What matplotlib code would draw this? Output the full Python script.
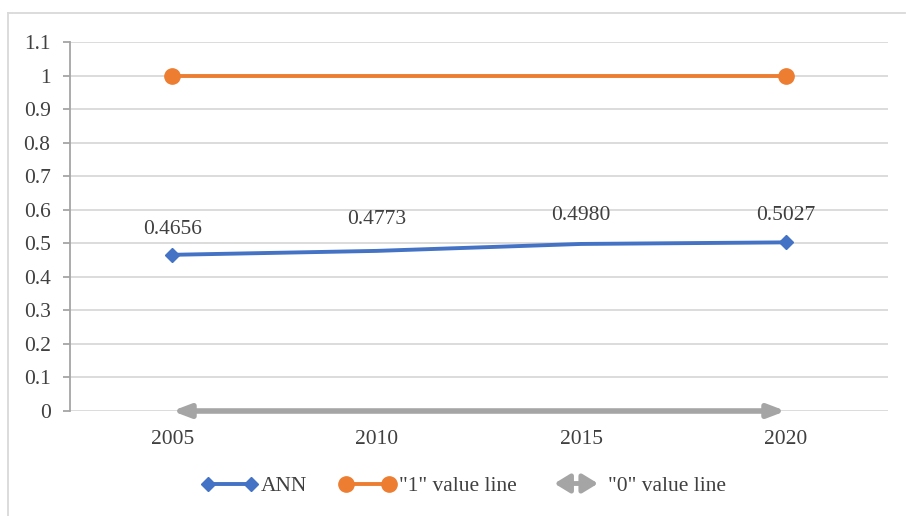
import matplotlib.pyplot as plt
import matplotlib.patches as mpatches
from matplotlib.lines import Line2D
from matplotlib.legend_handler import HandlerPatch

plt.rcParams['font.family'] = ['Liberation Serif', 'DejaVu Serif']

# -- data
years = ['2005', '2010', '2015', '2020']
ann = [0.4656, 0.4773, 0.4980, 0.5027]
ann_labels = ['0.4656', '0.4773', '0.4980', '0.5027']
one_line = [1, 1, 1, 1]
zero_line = [0, 0, 0, 0]
yticks = [0, 0.1, 0.2, 0.3, 0.4, 0.5, 0.6, 0.7, 0.8, 0.9, 1, 1.1]
ytick_labels = ['0', '0.1', '0.2', '0.3', '0.4', '0.5', '0.6', '0.7', '0.8', '0.9', '1', '1.1']

blue = '#4472C4'
orange = '#ED7D31'
gray = '#A5A5A5'
grid = '#D9D9D9'
txt = '#404040'
fs = 15.5

fig = plt.figure(figsize=(9.06, 5.16), dpi=100)
ax = fig.add_axes([70/906, 1 - 411/516, (888 - 70)/906, (411 - 42)/516])

x = list(range(len(years)))

# grid
for v in yticks:
    ax.axhline(v, color=grid, lw=1.3, zorder=0)

# ANN line, markers only at the ends
ax.plot(x, ann, color=blue, lw=2.8, zorder=3)
ax.plot([x[0], x[-1]], [ann[0], ann[-1]], 'D', color=blue, ms=7.5, zorder=4, ls='none')

# "1" value line
ax.plot(x, one_line, color=orange, lw=2.8, zorder=3)
ax.plot([x[0], x[-1]], [one_line[0], one_line[-1]], 'o', color=orange, ms=11, zorder=4, ls='none')

# "0" value line, double arrow
ax.annotate('', xy=(x[0], zero_line[0]), xytext=(x[-1], zero_line[-1]),
            arrowprops=dict(arrowstyle='<|-|>,head_length=1.0,head_width=0.38',
                            color=gray, lw=4, shrinkA=0, shrinkB=0), zorder=3)

# data labels
offsets = [0.075, 0.095, 0.085, 0.08]
for xi, v, lab, off in zip(x, ann, ann_labels, offsets):
    ax.text(xi, v + off, lab, ha='center', va='center', fontsize=fs, color=txt)

ax.set_xlim(-0.5, 3.5)
ax.set_ylim(0, 1.1)
ax.set_xticks(x)
ax.set_xticklabels(years)
ax.set_yticks(yticks)
ax.set_yticklabels(ytick_labels)
ax.tick_params(axis='x', length=0, pad=14, labelsize=fs, labelcolor=txt)
ax.tick_params(axis='y', length=5, width=1.3, color=gray, pad=9, labelsize=fs, labelcolor=txt)

for s in ['top', 'right', 'bottom']:
    ax.spines[s].set_visible(False)
ax.spines['left'].set_color(gray)
ax.spines['left'].set_linewidth(1.3)


# legend: double arrow handle for the "0" line
def make_arrow(legend, orig_handle, xdescent, ydescent, width, height, fontsize):
    y = height / 2 - ydescent
    x0 = -xdescent + 0.1 * width
    x1 = -xdescent + 0.88 * width
    return mpatches.FancyArrowPatch((x0, y), (x1, y),
                                    arrowstyle='<|-|>,head_length=9,head_width=5.5',
                                    mutation_scale=1, shrinkA=0, shrinkB=0)

arrow_handle = mpatches.Patch(facecolor=gray, edgecolor=gray, lw=3.5)
handles = [
    Line2D([], [], color=blue, lw=2.8, marker='D', ms=7.5),
    Line2D([], [], color=orange, lw=2.8, marker='o', ms=11),
    arrow_handle,
]
fig.legend(handles, ['ANN', '"1" value line', '"0" value line'],
           loc='center', bbox_to_anchor=(0.512, 1 - 486/516), ncol=3, frameon=False,
           fontsize=fs, labelcolor=txt, handlelength=2.6, handletextpad=0.15,
           columnspacing=1.5, numpoints=2,
           handler_map={arrow_handle: HandlerPatch(patch_func=make_arrow)})

# outer chart border (top and left only visible)
fig.add_artist(Line2D([8/906, 905/906], [1 - 13/516, 1 - 13/516], color=grid, lw=1.3))
fig.add_artist(Line2D([8/906, 8/906], [1 - 13/516, 0], color=grid, lw=1.3))

fig.savefig('out.png', dpi=100)
